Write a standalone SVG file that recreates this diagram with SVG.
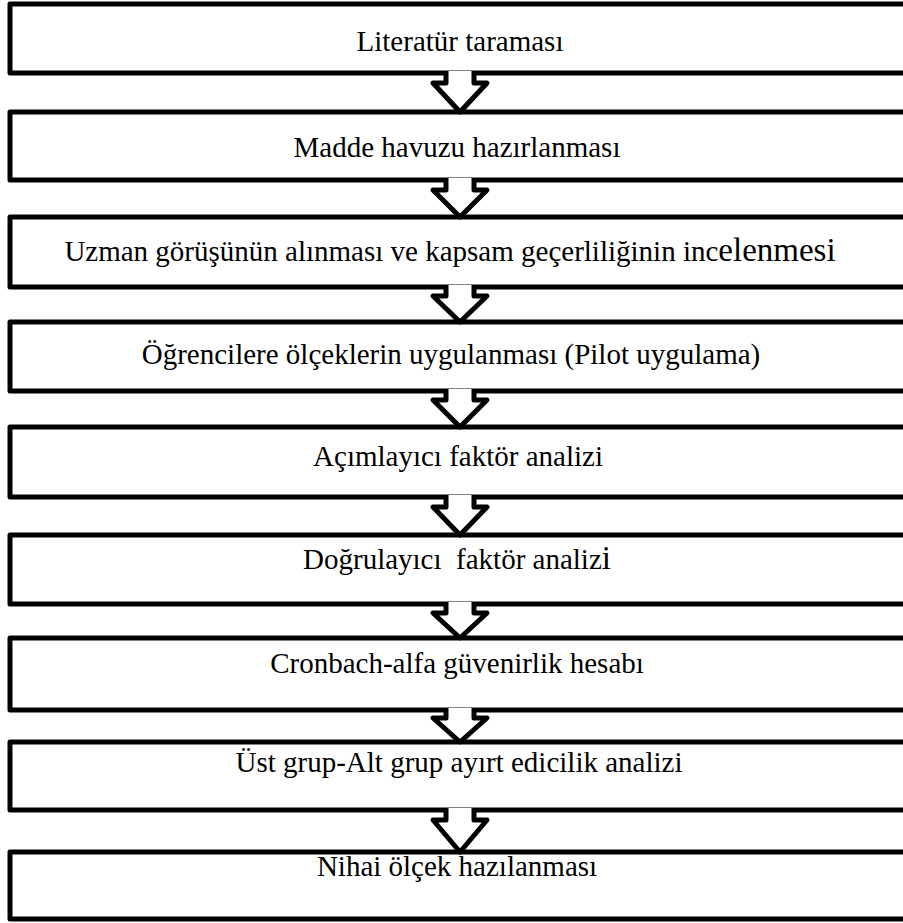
<svg xmlns="http://www.w3.org/2000/svg" width="903" height="923" viewBox="0 0 903 923">
<style>
.box{fill:#fff;stroke:#000;stroke-width:5;stroke-linejoin:round}
.arr{fill:#fff;stroke:#000;stroke-width:5;stroke-linejoin:round}
text{font-family:"Liberation Serif","Times New Roman",serif;font-size:29px;fill:#000;text-anchor:middle;white-space:pre}
.big{font-size:33px}
</style>
<rect width="903" height="923" fill="#fff"/>
<g id="n1"><rect class="box" x="10" y="4" width="900" height="69"/><text x="460" y="51">Literatür taraması</text></g>
<g id="n2"><rect class="box" x="10" y="112" width="900" height="68"/><text x="457" y="157">Madde havuzu hazırlanması</text></g>
<g id="n3"><rect class="box" x="10" y="217" width="900" height="70"/><text x="450" y="261">Uzman görüşünün alınması ve kapsam geçerliliğinin inc<tspan class="big">elenmesi</tspan></text></g>
<g id="n4"><rect class="box" x="10" y="322" width="900" height="69"/><text x="451" y="364">Öğrencilere ölçeklerin uygulanması (Pilot uygulama)</text></g>
<g id="n5"><rect class="box" x="10" y="427" width="900" height="70"/><text x="458" y="466">Açımlayıcı faktör analizi</text></g>
<g id="n6"><rect class="box" x="10" y="535" width="900" height="69"/><text x="457" y="569">Doğrulayıcı  faktör analiz<tspan class="big">i</tspan></text></g>
<g id="n7"><rect class="box" x="10" y="638" width="900" height="72"/><text x="457" y="673">Cronbach-alfa güvenirlik hesabı</text></g>
<g id="n8"><rect class="box" x="10" y="742" width="900" height="68"/><text x="459" y="772">Üst grup-Alt grup ayırt edicilik analizi</text></g>
<g id="n9"><rect class="box" x="10" y="852" width="900" height="67"/><text x="457" y="876">Nihai ölçek hazılanması</text></g>
<g id="connectors">
<path class="arr" d="M446,71 V83 H433 L460,112 L487,83 H474 V71"/>
<path class="arr" d="M446,178 V190 H433 L460,217 L487,190 H474 V178"/>
<path class="arr" d="M446,285 V296 H433 L460,322 L487,296 H474 V285"/>
<path class="arr" d="M446,389 V400 H433 L460,427 L487,400 H474 V389"/>
<path class="arr" d="M446,495 V507 H433 L460,535 L487,507 H474 V495"/>
<path class="arr" d="M446,602 V613 H433 L460,638 L487,613 H474 V602"/>
<path class="arr" d="M446,708 V718 H433 L460,742 L487,718 H474 V708"/>
<path class="arr" d="M446,808 V820 H433 L460,852 L487,820 H474 V808"/>
</g>
</svg>
